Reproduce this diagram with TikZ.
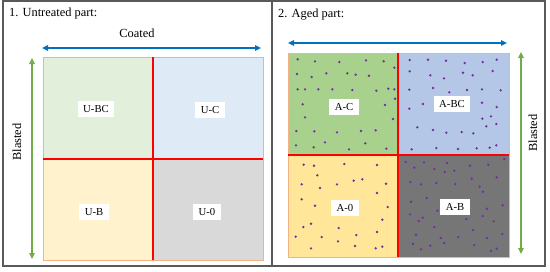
\documentclass[tikz,border=0pt]{standalone}
\usepackage{fontspec}
\setmainfont{Liberation Serif}
\usetikzlibrary{arrows.meta}
\definecolor{frameGray}{HTML}{595959}
\definecolor{gridOrange}{HTML}{F4B183}
\definecolor{divRed}{HTML}{FF0000}
\definecolor{coatBlue}{HTML}{0070C0}
\definecolor{blastGreen}{HTML}{70AD47}
\definecolor{dotPurple}{HTML}{7030A0}
\begin{document}
\begin{tikzpicture}[x=1pt, y=-1pt]
\providecommand{\partFrameWidth}{1.1pt}
\providecommand{\partDivWidth}{2pt}
\providecommand{\partDotRadius}{1.3pt}
\tikzset{
  parttitle/.style={anchor=west, inner sep=0pt, font=\fontsize{12.4}{14}\selectfont},
  axislabel/.style={inner sep=0pt, font=\fontsize{12.4}{14}\selectfont},
  quadlabel/.style={fill=white, inner xsep=5.5pt, inner ysep=0pt, minimum height=16pt,
    font=\fontsize{10.7}{12}\selectfont},
  coatarrow/.style={draw=coatBlue, line width=1.4pt,
    {Triangle[length=6pt,width=5.5pt]}-{Triangle[length=6pt,width=5.5pt]}},
  blastarrow/.style={draw=blastGreen, line width=1.4pt,
    {Triangle[length=6pt,width=5.5pt]}-{Triangle[length=6pt,width=5.5pt]}}
}
\useasboundingbox (0,0) rectangle (550,271);
% Outer frame and divider
\draw[frameGray, line width=\partFrameWidth] (3,1) rectangle (545,266);
\draw[frameGray, line width=\partFrameWidth] (272,1) -- (272,266);
%
% 1. Untreated part
\node[parttitle] (utitle) at (9,14) {1. Untreated part:};
\node[axislabel] (ucoat) at (137,33) {Coated};
\node[axislabel, rotate=90] (ublast) at (17,142) {Blasted};
\coordinate (ucoat-l) at (42,48);
\coordinate (ucoat-r) at (261,48);
\coordinate (ublast-t) at (32,58);
\coordinate (ublast-b) at (32,259);
\draw[coatarrow] (ucoat-l) -- (ucoat-r);
\draw[blastarrow] (ublast-t) -- (ublast-b);
% Quadrant fills
\fill[fill={rgb,255:red,226;green,239;blue,218}] (43,57) rectangle (153,159);
\fill[fill={rgb,255:red,222;green,235;blue,247}] (153,57) rectangle (263,159);
\fill[fill={rgb,255:red,255;green,242;blue,204}] (43,159) rectangle (153,260);
\fill[fill={rgb,255:red,217;green,217;blue,217}] (153,159) rectangle (263,260);
% Border and dividers
\draw[gridOrange, line width=1pt] (43,57) rectangle (263,260);
\begin{scope}[draw=divRed, line width=\partDivWidth]
  \draw (153,57) -- (153,260);
  \draw (43,159) -- (263,159);
\end{scope}
\node[quadlabel] (ubc) at (96,109) {U-BC};
\node[quadlabel] (uc) at (210,110) {U-C};
\node[quadlabel] (ub) at (94,212) {U-B};
\node[quadlabel] (u0) at (207,212) {U-0};
%
% 2. Aged part
\node[parttitle] (atitle) at (278,15) {2. Aged part:};
\node[axislabel, rotate=90] (ablast) at (533,133) {Blasted};
\coordinate (acoat-l) at (288,43);
\coordinate (acoat-r) at (507,43);
\coordinate (ablast-t) at (521,52);
\coordinate (ablast-b) at (521,254);
\draw[coatarrow] (acoat-l) -- (acoat-r);
\draw[blastarrow] (ablast-t) -- (ablast-b);
% Quadrant fills
\fill[fill={rgb,255:red,169;green,209;blue,142}] (288,53) rectangle (398,155);
\fill[fill={rgb,255:red,180;green,199;blue,231}] (398,53) rectangle (509,155);
\fill[fill={rgb,255:red,255;green,230;blue,153}] (288,155) rectangle (398,257);
\fill[fill={rgb,255:red,118;green,118;blue,118}] (398,155) rectangle (509,257);
% Aging dots
\begin{scope}[xshift=275pt, fill=dotPurple]
  \foreach \px/\py in {22.7/59.3, 40/61.3, 64.3/62, 91/60.3, 108.7/61.3, 119.3/67.7,
    22/74, 36.7/77, 51.3/73.3, 72.3/73.3, 80.7/74.7, 94/75.7,
    22.7/89.3, 30/89.3, 43.3/89.3, 57.3/89.3, 77.3/90, 101.3/90.7, 113.3/88.7, 119.3/89.3, 120/98.7,
    27.7/104.3, 30/117.3, 110/105, 118/119,
    21.3/131, 39.3/131.3, 62/132.3, 86/131, 100.7/130.3,
    21/145.3, 38.7/147.3, 50/142.3, 74/149.3, 90.3/143.3, 111.3/148.7}
    \fill (\px,\py) circle (\partDotRadius);
  \foreach \px/\py in {134.7/60, 153/59.7, 171/60.7, 189.7/63, 207.7/62, 221.7/59.7,
    134.7/71.3, 155.3/75.3, 169/78.3, 188/72.7, 197.7/75.3, 217.7/71,
    134.3/89.7, 158/88, 174.3/92.3, 192/90, 207/89.3, 225.7/90.3,
    134.3/108.7, 148/104, 207/102.7, 221.7/107, 207.3/118.7, 216/116.3,
    142.3/127.3, 158/130, 171.3/132.7, 186.7/132, 198.3/133.3, 211.3/126.3, 221.3/124,
    136.7/149.3, 161.3/148, 183/149, 201.7/148.3, 214.7/147.7, 221.3/145.3}
    \fill (\px,\py) circle (\partDotRadius);
  \foreach \px/\py in {28.7/164.7, 39/165.7, 69.3/164, 102/165, 42.3/175.3,
    26.7/184.3, 45/188, 62/184.3, 78.7/180.7, 87.3/179.3, 111/183.7,
    26.7/199.3, 40/205.7, 102/193, 112.7/207,
    36/223.7, 28.3/227, 63.7/228, 107.3/219.7,
    20.7/236.7, 46.7/237, 81.3/235, 102/232,
    36/248.3, 63/241.3, 80/246, 100.7/248.3, 107.3/246.7}
    \fill (\px,\py) circle (\partDotRadius);
  \foreach \px/\py in {130.7/162, 139.3/167.7, 149/162.3, 159.3/169, 172/163, 179.3/170.7,
    169.7/172, 195/165.7, 213.3/164.7, 229.3/159,
    135.3/182, 146/184.3, 161.3/183, 180.3/184, 196.7/178.7, 204.7/186.7, 208/191.7, 221.7/177.3,
    136/201.7, 151.7/198, 162.3/210.7, 212/208.7, 227.7/205.3,
    135/214.3, 143.7/221, 147.7/217.7, 159.3/227, 191.3/219, 207.7/216, 218.7/221.3,
    141/234.7, 165.7/238, 183.3/237, 198/230, 212/238, 227.3/234,
    138/243.7, 146/249.3, 155.3/245.7, 169.3/243, 199.3/245, 216/251, 221.7/248.7}
    \fill (\px,\py) circle (\partDotRadius);
\end{scope}
% Border and dividers
\draw[gridOrange, line width=1pt] (288,53) rectangle (509,257);
\begin{scope}[draw=divRed, line width=\partDivWidth]
  \draw (398,53) -- (398,257);
  \draw (288,155) -- (509,155);
\end{scope}
\node[quadlabel] (ac) at (344,107) {A-C};
\node[quadlabel] (abc) at (452,104) {A-BC};
\node[quadlabel] (a0) at (345,208) {A-0};
\node[quadlabel] (ab) at (455,207) {A-B};
\end{tikzpicture}
\end{document}
